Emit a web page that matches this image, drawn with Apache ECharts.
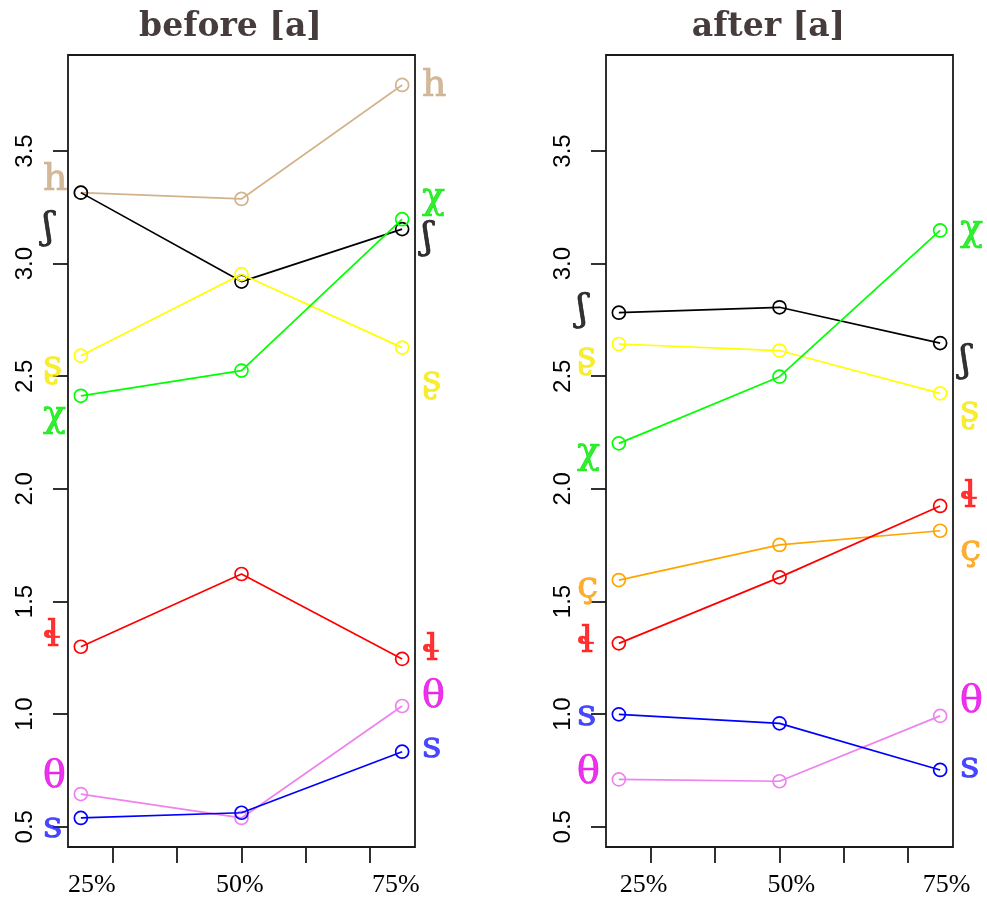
<!DOCTYPE html>
<html>
<head>
<meta charset="utf-8">
<script src="https://cdn.jsdelivr.net/npm/echarts@6/dist/echarts.min.js"></script>
<style>
  html, body { margin: 0; padding: 0; background: #ffffff; }
  #chart { width: 987px; height: 900px; }
</style>
</head>
<body>
<div id="chart"></div>
<script>
// Measurement points along the vowel and their tick labels
const xPositions = [1, 2, 3];
const tickLabels = ['25%', '50%', '75%'];
const tickMarks = [1.2, 1.6, 2.0, 2.4, 2.8];
const yTicks = [0.5, 1.0, 1.5, 2.0, 2.5, 3.0, 3.5];
const panelTitles = ['before [a]', 'after [a]'];

// Fricatives, in drawing order
const phonemes = ['h', 'ʃ', 'ʂ', 'χ', 'ç', 'ɬ', 'θ', 's'];
const lineColors = ['#D2B48C', '#000000', '#FFFF00', '#00FF00', '#FFA500', '#FF0000', '#EE82EE', '#0000FF'];
const nameColors = ['#C8A882', '#000000', '#F5E800', '#00E800', '#FF9A00', '#FF0000', '#E600E6', '#1A1AFF'];

// Values before [a]
const beforeH     = [3.315, 3.287, 3.793];
const beforeEsh   = [3.315, 2.920, 3.153];
const beforeShook = [2.591, 2.953, 2.627];
const beforeChi   = [2.413, 2.525, 3.197];
const beforeCced  = null;
const beforeBelt  = [1.299, 1.622, 1.245];
const beforeTheta = [0.645, 0.539, 1.036];
const beforeS     = [0.539, 0.562, 0.833];

// Values after [a]
const afterH     = null;
const afterEsh   = [2.782, 2.806, 2.647];
const afterShook = [2.643, 2.614, 2.424];
const afterChi   = [2.202, 2.498, 3.147];
const afterCced  = [1.595, 1.751, 1.814];
const afterBelt  = [1.314, 1.607, 1.924];
const afterTheta = [0.710, 0.702, 0.992];
const afterS     = [0.999, 0.959, 0.752];

// Where the name tags sit beside each panel (value units, nudged apart)
const beforeTagLeft  = [3.370, 3.158, 2.546, 2.324, null, 1.344, 0.719, 0.500];
const beforeTagRight = [3.790, 3.113, 2.476, 3.290, null, 1.285, 1.077, 0.855];
const afterTagLeft   = [null, 2.793, 2.585, 2.158, 1.564, 1.320, 0.737, 0.996];
const afterTagRight  = [null, 2.565, 2.343, 3.149, 1.729, 1.965, 1.055, 0.766];

// Where the percent labels sit under each panel (axis units)
const beforeTickLabelX = [1.068, 1.99, 2.96];
const afterTickLabelX  = [1.154, 2.074, 3.04];

const beforeSeries = [beforeH, beforeEsh, beforeShook, beforeChi, beforeCced, beforeBelt, beforeTheta, beforeS];
const afterSeries  = [afterH, afterEsh, afterShook, afterChi, afterCced, afterBelt, afterTheta, afterS];

const panels = [
  { values: beforeSeries, tagLeft: beforeTagLeft, tagRight: beforeTagRight, labelX: beforeTickLabelX, left: 68, tagDx: -25 },
  { values: afterSeries,  tagLeft: afterTagLeft,  tagRight: afterTagRight,  labelX: afterTickLabelX,  left: 606, tagDx: -29 }
];

const X_MIN = 0.92, X_MAX = 3.08, Y_MIN = 0.410, Y_MAX = 3.926;
const GRID_W = 347, GRID_H = 792, GRID_TOP = 55;

const grids = [], xAxes = [], yAxes = [], series = [], titles = [];

panels.forEach((p, pi) => {
  grids.push({
    left: p.left, top: GRID_TOP, width: GRID_W, height: GRID_H,
    show: true, borderColor: '#1a1a1a', borderWidth: 1.8, backgroundColor: 'transparent'
  });
  titles.push({
    text: panelTitles[pi],
    left: p.left + GRID_W / 2 - 16,
    top: 6,
    textAlign: 'center',
    textStyle: { fontFamily: 'DejaVu Serif', fontWeight: 'bold', fontSize: 33, color: '#473C3C' }
  });
  xAxes.push({
    gridIndex: pi, type: 'value', min: X_MIN, max: X_MAX,
    splitLine: { show: false },
    axisLine: { show: false },
    axisTick: { show: true, inside: false, length: 16, customValues: tickMarks,
                lineStyle: { color: '#1a1a1a', width: 1.8 } },
    axisLabel: {
      show: true, margin: 25, customValues: p.labelX,
      fontFamily: 'Liberation Serif', fontSize: 26, color: '#000',
      formatter: function (v) {
        let best = 0;
        p.labelX.forEach((lx, i) => { if (Math.abs(lx - v) < Math.abs(p.labelX[best] - v)) best = i; });
        return tickLabels[best];
      }
    }
  });
  yAxes.push({
    gridIndex: pi, type: 'value', min: Y_MIN, max: Y_MAX,
    splitLine: { show: false },
    axisLine: { show: false },
    axisTick: { show: true, inside: false, length: 15, customValues: yTicks,
                lineStyle: { color: '#1a1a1a', width: 1.8 } },
    axisLabel: {
      show: true, rotate: 90, margin: 31, customValues: yTicks,
      fontFamily: 'Liberation Sans', fontSize: 24, color: '#000',
      formatter: v => v.toFixed(1)
    }
  });

  // one line per fricative, open circles at each point
  p.values.forEach((vals, si) => {
    if (!vals) return;
    series.push({
      type: 'line', name: phonemes[si], xAxisIndex: pi, yAxisIndex: pi,
      data: xPositions.map((x, i) => [x, vals[i]]),
      symbol: 'circle', symbolSize: 13, showAllSymbol: true,
      lineStyle: { color: lineColors[si], width: 1.7 },
      itemStyle: { color: 'rgba(0,0,0,0)', borderColor: lineColors[si], borderWidth: 1.7 },
      z: 3 + si,
      animation: false
    });
  });

  // name tags on both sides of the panel
  const tags = [];
  p.values.forEach((vals, si) => {
    if (!vals) return;
    const style = { color: nameColors[si], textBorderColor: nameColors[si], textBorderWidth: 0.7 };
    tags.push({ value: [X_MIN, p.tagLeft[si]], name: phonemes[si],
      label: Object.assign({ offset: [p.tagDx, 0] }, style) });
    tags.push({ value: [X_MAX, p.tagRight[si]], name: phonemes[si],
      label: Object.assign({ offset: [7, 0] }, style) });
  });
  series.push({
    type: 'scatter', xAxisIndex: pi, yAxisIndex: pi, clip: false,
    symbolSize: 0, data: tags, z: 20, animation: false, silent: true,
    label: {
      show: true, position: 'inside', align: 'left', verticalAlign: 'middle',
      fontFamily: 'DejaVu Serif', fontSize: 38,
      formatter: params => params.name
    }
  });
});

const chart = echarts.init(document.getElementById('chart'), null, { renderer: 'canvas' });
chart.setOption({
  backgroundColor: '#ffffff',
  animation: false,
  title: titles,
  grid: grids,
  xAxis: xAxes,
  yAxis: yAxes,
  series: series
});
</script>
</body>
</html>
